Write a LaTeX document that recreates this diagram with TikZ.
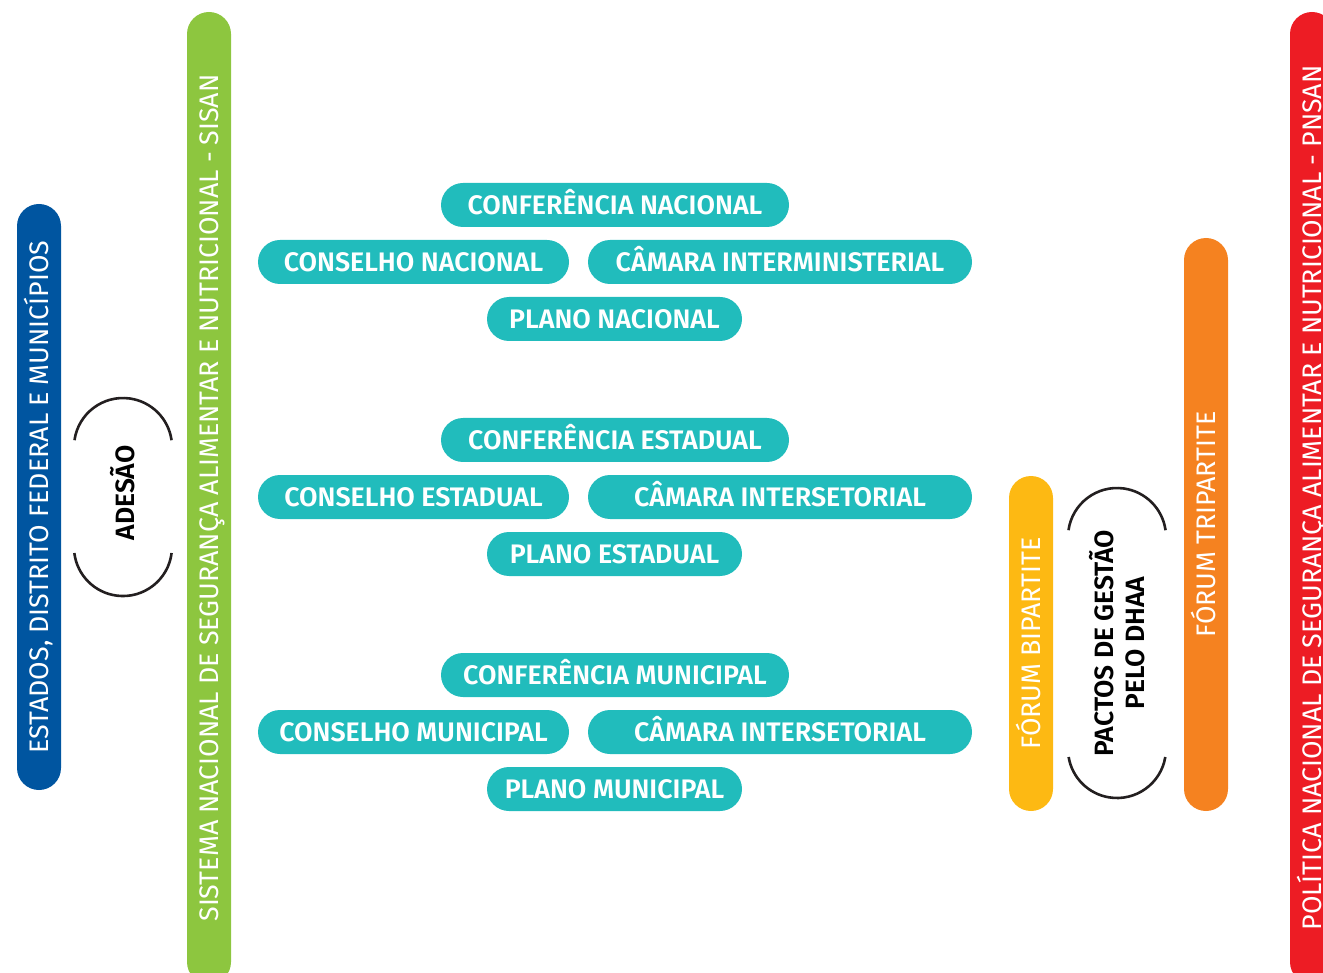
\documentclass[tikz,border=0pt]{standalone}
\usepackage{fontspec}
\setmainfont{Fira Sans}
\IfFontExistsTF{Fira Sans SemiBold}
  {\newfontfamily\pillfont{Fira Sans SemiBold}\def\pillweight{}}
  {\newfontfamily\pillfont{Fira Sans}\def\pillweight{\bfseries}}
\newfontfamily\barfont{Fira Sans}
\definecolor{sisanblue}{HTML}{0055A0}
\definecolor{sisangreen}{HTML}{8DC63F}
\definecolor{sisanteal}{HTML}{21BCBC}
\definecolor{sisanyellow}{HTML}{FDB913}
\definecolor{sisanorange}{HTML}{F58220}
\definecolor{sisanred}{HTML}{ED1C24}
\definecolor{arcgray}{HTML}{231F20}

\begin{document}
\begin{tikzpicture}[x=1pt,y=-1pt,
  bar/.style={rounded corners=22pt, minimum height=44pt, inner sep=0pt, rotate=90,
    text height=19pt, text depth=0pt, text=white, font=\barfont\fontsize{26.8}{26.8}\selectfont},
  pill/.style={fill=sisanteal, rounded corners=22pt, minimum height=44pt, inner sep=0pt,
    text height=19pt, text depth=0pt, text=white, font=\pillfont\pillweight\fontsize{26.8}{26.8}\selectfont},
  bracket/.style={draw=arcgray, line width=2.6pt},
  label/.style={text=black, rotate=90, align=center, font=\pillfont\pillweight\fontsize{26.5}{31}\selectfont}]
\useasboundingbox (0,0) rectangle (1323,973);
\clip (0,0) rectangle (1323,973);

% vertical bars
\node[bar, fill=sisanblue, minimum width=586pt] (estados) at (39,497) {ESTADOS, DISTRITO FEDERAL E MUNICÍPIOS};
\node[bar, fill=sisangreen, minimum width=972pt] (sisan) at (209,498) {SISTEMA NACIONAL DE SEGURANÇA ALIMENTAR E NUTRICIONAL - SISAN};
\node[bar, fill=sisanyellow, minimum width=335pt] (bipartite) at (1031,643.5) {FÓRUM BIPARTITE};
\node[bar, fill=sisanorange, minimum width=573pt] (tripartite) at (1206,524.5) {FÓRUM TRIPARTITE};
\node[bar, fill=sisanred, minimum width=972pt] (pnsan) at (1312,498) {POLÍTICA NACIONAL DE SEGURANÇA ALIMENTAR E NUTRICIONAL - PNSAN};

% nacional
\node[pill, minimum width=348pt] (confN) at (615,205) {CONFERÊNCIA NACIONAL};
\node[pill, minimum width=311pt] (conselhoN) at (413.5,262) {CONSELHO NACIONAL};
\node[pill, minimum width=384pt] (camaraN) at (780,262) {CÂMARA INTERMINISTERIAL};
\node[pill, minimum width=255pt] (planoN) at (614.5,319) {PLANO NACIONAL};

% estadual
\node[pill, minimum width=348pt] (confE) at (615,440) {CONFERÊNCIA ESTADUAL};
\node[pill, minimum width=311pt] (conselhoE) at (413.5,497) {CONSELHO ESTADUAL};
\node[pill, minimum width=384pt] (camaraE) at (780,497) {CÂMARA INTERSETORIAL};
\node[pill, minimum width=255pt] (planoE) at (614.5,554) {PLANO ESTADUAL};

% municipal
\node[pill, minimum width=348pt] (confM) at (615,675) {CONFERÊNCIA MUNICIPAL};
\node[pill, minimum width=311pt] (conselhoM) at (413.5,732) {CONSELHO MUNICIPAL};
\node[pill, minimum width=384pt] (camaraM) at (780,732) {CÂMARA INTERSETORIAL};
\node[pill, minimum width=255pt] (planoM) at (614.5,789) {PLANO MUNICIPAL};

% adesao
\node[label] (adesao) at (123,493) {ADESÃO};
\draw[bracket] (74.5,440.2) arc[start angle=188, end angle=352, radius=49];
\draw[bracket] (171.6,553) arc[start angle=7, end angle=173, radius=49];

% pactos
\node[label] (pactos) at (1117,643) {PACTOS DE GESTÃO\\PELO DHAA};
\draw[bracket] (1068.5,530.2) arc[start angle=188, end angle=352, radius=49];
\draw[bracket] (1165.3,757) arc[start angle=9.4, end angle=170.6, radius=49];
\end{tikzpicture}
\end{document}
